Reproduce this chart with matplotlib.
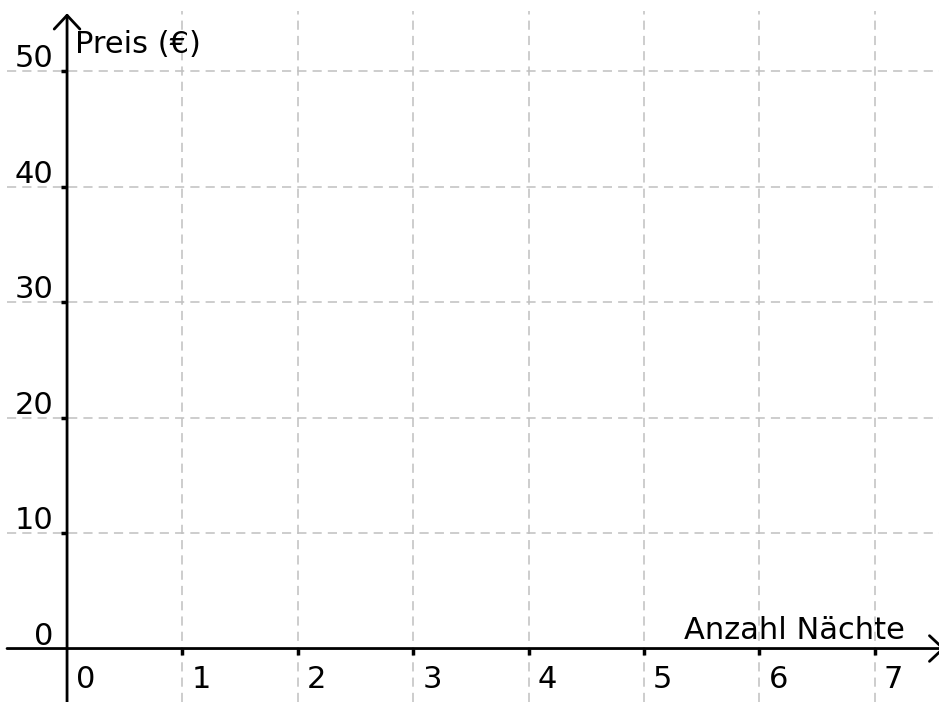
import numpy as np
import matplotlib.pyplot as plt

# Achsen und Beschriftungen
x_ticks = [0, 1, 2, 3, 4, 5, 6, 7]
y_ticks = [0, 10, 20, 30, 40, 50]
x_label = "Anzahl Nächte"
y_label = "Preis (€)"

fig = plt.figure(figsize=(9.39, 7.02), dpi=100)
ax = fig.add_axes([0, 0, 1, 1])
ax.set_xlim(-0.581, 7.556)
ax.set_ylim(-4.63, 56.15)
ax.axis('off')

font = dict(family='DejaVu Sans', size=22, color='black')

# Gitter
for x in x_ticks[1:]:
    ax.axvline(x, ymax=0.985, color='#c0c0c0', lw=1.1, ls=(0, (6, 4)), zorder=1)
for y in y_ticks[1:]:
    ax.axhline(y, xmin=0.007, color='#c0c0c0', lw=1.1, ls=(0, (6, 4)), zorder=1)

# Achsen mit Pfeilen
pfeil = dict(arrowstyle='->,head_length=0.45,head_width=0.42', lw=2, color='black',
             mutation_scale=22, shrinkA=0, shrinkB=0)
ax.annotate('', xy=(7.61, 0), xytext=(-0.52, 0), arrowprops=pfeil, annotation_clip=False)
ax.annotate('', xy=(0, 55.0), xytext=(0, -4.63), arrowprops=pfeil)

# Teilstriche
ax.plot(x_ticks[1:], [0] * (len(x_ticks) - 1), ls='none', marker=3, ms=4, mew=2.5, color='black')
ax.plot([0] * (len(y_ticks) - 1), y_ticks[1:], ls='none', marker=0, ms=4, mew=2.5, color='black')

# Beschriftung der Teilstriche
for x in x_ticks:
    ax.annotate(str(x), (x, 0), xytext=(9, -16), textcoords='offset pixels',
                ha='left', va='top', **font)
for y in y_ticks:
    ax.annotate(str(y), (0, y), xytext=(-14, 4), textcoords='offset pixels',
                ha='right', va='baseline', **font)

# Achsentitel
ax.annotate(y_label, (0, 50), xytext=(8, 18), textcoords='offset pixels',
            ha='left', va='baseline', **font)
ax.annotate(x_label, (7.2, 0), xytext=(7, 10), textcoords='offset pixels',
            ha='right', va='baseline', **font)

fig.savefig('out.png', dpi=100)
